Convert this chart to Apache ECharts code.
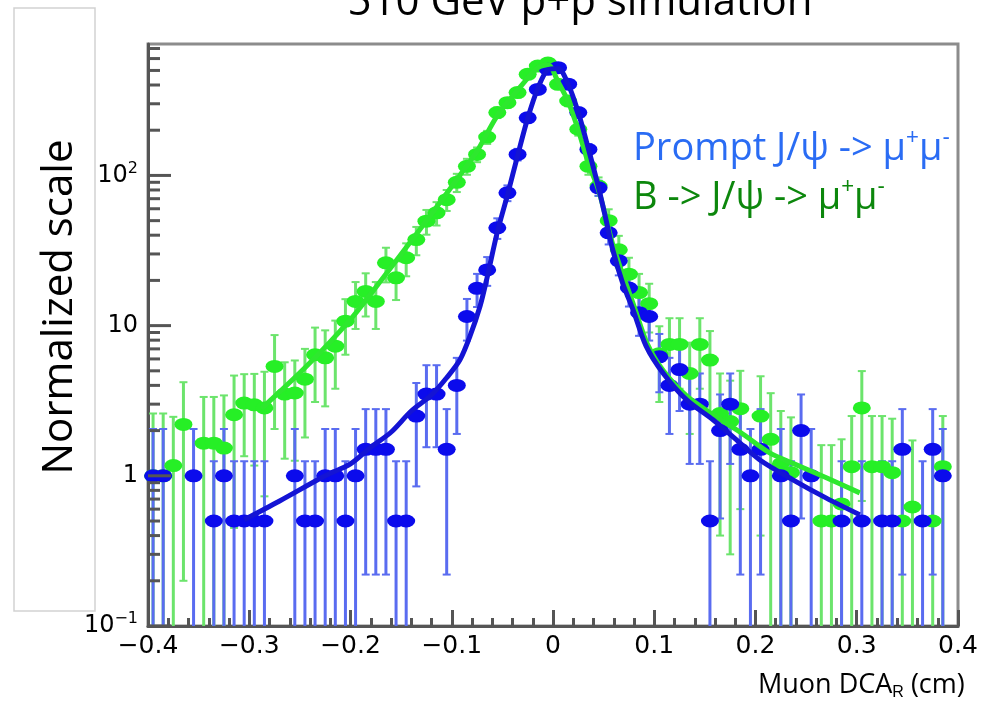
<!DOCTYPE html>
<html>
<head>
<meta charset="utf-8">
<script src="https://cdn.jsdelivr.net/npm/echarts@6/dist/echarts.min.js"></script>
<style>
html, body { margin: 0; padding: 0; background: #fff; }
#main { width: 996px; height: 701px; }
</style>
</head>
<body>
<div id="main"></div>
<script>
// bin centres of the DCA histogram (cm)
var binCenters = [
  -0.395, -0.385, -0.375, -0.365, -0.355, -0.345, -0.335, -0.325, -0.315, -0.305,
  -0.295, -0.285, -0.275, -0.265, -0.255, -0.245, -0.235, -0.225, -0.215, -0.205,
  -0.195, -0.185, -0.175, -0.165, -0.155, -0.145, -0.135, -0.125, -0.115, -0.105,
  -0.095, -0.085, -0.075, -0.065, -0.055, -0.045, -0.035, -0.025, -0.015, -0.005,
  0.005, 0.015, 0.025, 0.035, 0.045, 0.055, 0.065, 0.075, 0.085, 0.095,
  0.105, 0.115, 0.125, 0.135, 0.145, 0.155, 0.165, 0.175, 0.185, 0.195,
  0.205, 0.215, 0.225, 0.235, 0.245, 0.255, 0.265, 0.275, 0.285, 0.295,
  0.305, 0.315, 0.325, 0.335, 0.345, 0.355, 0.365, 0.375, 0.385, 0.395
];

// Prompt J/psi (blue)
var promptVals = [
  1, 1, null, null, 1, null, 0.5, 1, 0.5, 0.5,
  0.5, 0.5, null, null, 1, 0.5, 0.5, 1, 1, 0.5,
  1, 1.5, 1.5, 1.5, 0.5, 0.5, 2.5, 3.5, 3.5, 1.5,
  4, 11.5, 17.7, 23.5, 44.8, 76.6, 138, 242, 374, 509,
  522, 405, 262, 149, 82.7, 41.5, 27, 17.8, 12.2, 11.5,
  6.2, 4, 5.1, 3, 3, 0.5, 2, 3, 1.5, 1,
  1.5, null, 1, 0.5, 2, 1, null, null, 0.5, null,
  0.5, null, 0.5, 0.5, 1.5, null, 0.5, 1.5, 1, null
];
var promptErr = [
  1.05, 1.05, null, null, 1.05, null, 0.75, 1.05, 0.75, 0.75,
  0.75, 0.75, null, null, 1.05, 0.75, 0.75, 1.05, 1.05, 0.75,
  1.05, 1.28, 1.28, 1.28, 0.75, 0.75, 1.65, 1.95, 1.95, 1.28,
  2.1, 3.55, 4.4, 5.1, 7, 9.2, 12.3, 16.3, 20, 23.6,
  24, 21, 17, 12.8, 9.5, 6.8, 5.4, 4.4, 3.65, 3.55,
  2.6, 2.1, 2.4, 1.8, 1.8, 0.75, 1.48, 1.8, 1.28, 1.05,
  1.28, null, 1.05, 0.75, 1.48, 1.05, null, null, 0.75, null,
  0.75, null, 0.75, 0.75, 1.28, null, 0.75, 1.28, 1.05, null
];

// B -> J/psi (green)
var bVals = [
  1, 1, 1.17, 2.2, null, 1.65, 1.65, 1.53, 2.55, 3.05,
  2.97, 2.83, 5.35, 3.5, 3.56, 4.4, 6.4, 6.1, 7.3, 10.7,
  14.5, 16.9, 14.5, 26.2, 20.8, 28.3, 37.4, 49.6, 56.4, 69,
  90, 115, 138, 180, 262, 305, 356, 471, 535, 560,
  404, 313, 203, 115, 85, 50, 32, 22, 16.6, 14,
  6.5, 7.5, 7.5, 4.8, 7.5, 5.9, 2.6, 2.3, 2.8, null,
  2.5, 1.75, 1.2, 1.05, null, null, 0.5, 0.5, 0.65, 1.15,
  2.83, 1.15, 1.15, 1.05, 0.5, 0.62, null, 0.5, 1.15, null
];
var bErr = [
  1.6, 1.6, 1.3, 2.0, null, 1.7, 1.7, 1.9, 2.1, 1.7,
  1.8, 2.1, 3.3, 2.2, 2.3, 2.6, 3.3, 3.2, 3.5, 4.3,
  5, 5.4, 5, 6.8, 6, 7, 8, 9.3, 10, 11,
  12.5, 14, 15.5, 18, 21, 23, 25, 29, 31, 32,
  27, 24, 19, 14, 12, 9.5, 7.6, 6.3, 5.5, 5,
  3.4, 3.7, 3.7, 2.9, 3.7, 3.3, 2.2, 2.0, 2.2, null,
  2.1, 1.8, 1.5, 1.4, null, null, 1.1, 1.1, 1.1, 1.35,
  2.15, 1.35, 1.35, 1.35, 1.1, 1.1, null, 1.1, 1.35, null
];

// fitted curves
var promptFitX = [-0.305, -0.27, -0.225, -0.2, -0.18, -0.16, -0.14, -0.12, -0.105, -0.092, -0.082, -0.072, -0.065,
  -0.055, -0.045, -0.035, -0.025, -0.015, -0.005, 0.005, 0.015, 0.025, 0.035, 0.045, 0.052, 0.059, 0.069, 0.079,
  0.092, 0.109, 0.132, 0.158, 0.181, 0.204, 0.237, 0.27, 0.303];
var promptFitY = [0.51, 0.68, 1.0, 1.2, 1.55, 1.95, 2.7, 3.45, 4.5, 5.9, 8.5, 13.5, 21,
  42, 74, 135, 240, 380, 505, 515, 405, 262, 150, 83, 52, 32, 19, 12.8,
  7.3, 4.8, 3.2, 2.36, 1.74, 1.28, 0.94, 0.71, 0.55];
var bFitX = [-0.288, -0.243, -0.2, -0.171, -0.13, -0.092, -0.075, -0.055, -0.035, -0.015, -0.005, 0.005,
  0.015, 0.025, 0.035, 0.045, 0.06, 0.08, 0.093, 0.109, 0.132, 0.158, 0.185, 0.214, 0.237, 0.27, 0.303];
var bFitY = [2.8, 5.4, 11, 19.5, 45, 100, 145, 250, 370, 520, 545, 420,
  310, 200, 120, 80, 33, 13.5, 7.6, 5.0, 3.4, 2.55, 1.95, 1.42, 1.21, 0.97, 0.77];

// axis ticks
var yMajorTicks = [0.1, 1, 10, 100];
var yMajorLabels = ['10{s|\u22121}', '1', '10', '10{s|2}'];
var yMinorTicks = [0.2, 0.3, 0.4, 0.5, 0.6, 0.7, 0.8, 0.9,
  2, 3, 4, 5, 6, 7, 8, 9,
  20, 30, 40, 50, 60, 70, 80, 90,
  200, 300, 400, 500, 600, 700];

var xMin = -0.4, xMax = 0.4, yMin = 0.1, yMax = 750;

function pointsOf(vals) {
  var out = [];
  for (var i = 0; i < binCenters.length; i++) {
    if (vals[i] != null) out.push([binCenters[i], vals[i]]);
  }
  return out;
}

function errorsOf(vals, errs) {
  var out = [];
  for (var i = 0; i < binCenters.length; i++) {
    if (vals[i] == null) continue;
    var lo = vals[i] - errs[i];
    var cut = lo <= yMin ? 1 : 0;
    out.push([binCenters[i], cut ? yMin : lo, vals[i] + errs[i], cut]);
  }
  return out;
}

function pairs(xs, ys) {
  return xs.map(function (x, i) { return [x, ys[i]]; });
}

function errRenderer(color) {
  return function (params, api) {
    var x = api.value(0);
    var top = api.coord([x, Math.min(api.value(2), yMax)]);
    var bot = api.coord([x, api.value(1)]);
    var kids = [{
      type: 'line',
      shape: { x1: top[0], y1: top[1], x2: bot[0], y2: bot[1] },
      style: { stroke: color, lineWidth: 3 }
    }, {
      type: 'line',
      shape: { x1: top[0] - 4, y1: top[1], x2: top[0] + 4, y2: top[1] },
      style: { stroke: color, lineWidth: 2 }
    }];
    if (!api.value(3)) {
      kids.push({
        type: 'line',
        shape: { x1: bot[0] - 4, y1: bot[1], x2: bot[0] + 4, y2: bot[1] },
        style: { stroke: color, lineWidth: 2 }
      });
    }
    return { type: 'group', children: kids };
  };
}

var yTickData = yMajorTicks.map(function (v) { return [xMin, v, 23]; })
  .concat(yMinorTicks.map(function (v) { return [xMin, v, 12]; }));

var myChart = echarts.init(document.getElementById('main'));

var option = {
  animation: false,
  backgroundColor: '#fff',
  grid: {
    left: 148, right: 38, top: 44, bottom: 75,
    show: true, borderColor: '#8c8c8c', borderWidth: 3
  },
  graphic: [
    { type: 'rect', shape: { x: 14, y: 8, width: 81, height: 603 },
      style: { fill: 'none', stroke: '#d2d2d2', lineWidth: 1.5 }, silent: true },
    { type: 'text', x: 580, y: 3,
      style: { text: '510 GeV p+p simulation', font: '42px "Open Sans"', fill: '#000',
        align: 'center', verticalAlign: 'middle' } },
    { type: 'text', x: 60, y: 307, rotation: Math.PI / 2,
      style: { text: 'Normalized scale', font: '42px "Open Sans"', fill: '#000',
        align: 'center', verticalAlign: 'middle' } },
    { type: 'text', x: 633, y: 149,
      style: { text: 'Prompt J/\u03c8 -> \u03bc{s|+}\u03bc{s|-}', fill: '#2a6cf4',
        fontFamily: 'Open Sans', fontSize: 38, lineHeight: 44,
        align: 'left', verticalAlign: 'middle',
        rich: { s: { fontSize: 22, lineHeight: 22, verticalAlign: 'top', fill: '#2a6cf4' } } } },
    { type: 'text', x: 633, y: 198,
      style: { text: 'B -> J/\u03c8 -> \u03bc{s|+}\u03bc{s|-}', fill: '#0c870c',
        fontFamily: 'Open Sans', fontSize: 38, lineHeight: 44,
        align: 'left', verticalAlign: 'middle',
        rich: { s: { fontSize: 22, lineHeight: 22, verticalAlign: 'top', fill: '#0c870c' } } } },
    { type: 'text', x: 758, y: 685,
      style: { text: 'Muon DCA{r|R} (cm)', fill: '#000',
        fontFamily: 'Open Sans', fontSize: 27, lineHeight: 32,
        align: 'left', verticalAlign: 'middle',
        rich: { r: { fontSize: 16, lineHeight: 14, verticalAlign: 'bottom', fill: '#000' } } } }
  ],
  xAxis: {
    type: 'value',
    min: xMin, max: xMax, interval: 0.1,
    axisLine: { lineStyle: { color: '#555', width: 3 } },
    axisTick: { inside: true, length: 16, lineStyle: { color: '#555', width: 3 } },
    minorTick: { show: true, splitNumber: 5, length: 8, lineStyle: { color: '#555', width: 3 } },
    splitLine: { show: false },
    axisLabel: {
      margin: 8, color: '#000', fontFamily: 'DejaVu Sans', fontSize: 25,
      formatter: function (v) {
        if (Math.abs(v) < 1e-9) return '0';
        return (v < 0 ? '\u2212' : '') + Math.abs(v).toFixed(1);
      }
    }
  },
  yAxis: {
    type: 'log', logBase: 10,
    min: yMin, max: yMax,
    axisLine: { onZero: false, lineStyle: { color: '#555', width: 3 } },
    axisTick: { show: false },
    splitLine: { show: false },
    axisLabel: {
      margin: 10, color: '#000', fontFamily: 'DejaVu Sans', fontSize: 24, lineHeight: 30,
      showMaxLabel: false,
      formatter: function (v) {
        for (var i = 0; i < yMajorTicks.length; i++) {
          if (Math.abs(Math.log10(v) - Math.log10(yMajorTicks[i])) < 1e-6) return yMajorLabels[i];
        }
        return '';
      },
      rich: { s: { fontSize: 16, lineHeight: 15, verticalAlign: 'top', fontFamily: 'DejaVu Sans', color: '#000' } }
    }
  },
  series: [
    {
      type: 'custom', name: 'yticks', silent: true, z: 5,
      data: yTickData, encode: { x: 0, y: 1 },
      renderItem: function (params, api) {
        var p = api.coord([api.value(0), api.value(1)]);
        return { type: 'line', shape: { x1: p[0], y1: p[1], x2: p[0] + api.value(2), y2: p[1] },
          style: { stroke: '#555', lineWidth: 3 } };
      }
    },
    {
      type: 'custom', name: 'B err', silent: true,
      data: errorsOf(bVals, bErr), encode: { x: 0, y: 1 },
      renderItem: errRenderer('#6ce46c')
    },
    {
      type: 'scatter', name: 'B -> J/psi', silent: true,
      data: pointsOf(bVals), symbol: 'circle', symbolSize: [18, 13],
      itemStyle: { color: '#26ef26', opacity: 1 }
    },
    {
      type: 'line', name: 'B fit', silent: true,
      data: pairs(bFitX, bFitY), smooth: 0.3, showSymbol: false, symbol: 'none',
      lineStyle: { color: '#2ee82e', width: 5 }
    },
    {
      type: 'custom', name: 'Prompt err', silent: true,
      data: errorsOf(promptVals, promptErr), encode: { x: 0, y: 1 },
      renderItem: errRenderer('#5a6cf0')
    },
    {
      type: 'scatter', name: 'Prompt J/psi', silent: true,
      data: pointsOf(promptVals), symbol: 'circle', symbolSize: [18, 13],
      itemStyle: { color: '#0b0bec', opacity: 1 }
    },
    {
      type: 'line', name: 'Prompt fit', silent: true,
      data: pairs(promptFitX, promptFitY), smooth: 0.3, showSymbol: false, symbol: 'none',
      lineStyle: { color: '#1414d4', width: 5 }
    }
  ]
};

myChart.setOption(option);
</script>
</body>
</html>
